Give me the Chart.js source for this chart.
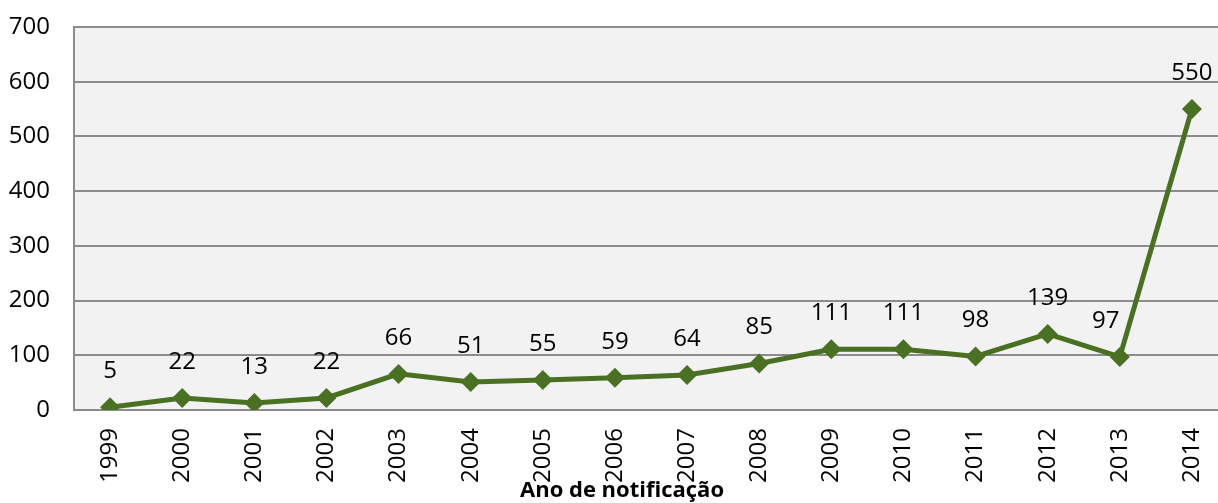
<!DOCTYPE html>
<html>
<head>
<meta charset="utf-8">
<script src="https://cdn.jsdelivr.net/npm/chart.js@4/dist/chart.umd.min.js"></script>
<style>
  html, body { margin: 0; padding: 0; background: #fff; overflow: hidden; }
  #wrap { width: 1240px; height: 503px; }
</style>
</head>
<body>
<div id="wrap"><canvas id="casesChart" width="1240" height="503"></canvas></div>
<script>
const years = ['1999', '2000', '2001', '2002', '2003', '2004', '2005', '2006',
  '2007', '2008', '2009', '2010', '2011', '2012', '2013', '2014'];
const cases = [5, 22, 13, 22, 66, 51, 55, 59, 64, 85, 111, 111, 98, 139, 97, 550];
const yTicks = [0, 100, 200, 300, 400, 500, 600, 700];
const xTitle = 'Ano de notificação';

const FONT = "'Open Sans', 'Noto Sans', sans-serif";
const GREEN = '#4a7023';

// gray plot background
const plotBackground = {
  id: 'plotBackground',
  beforeDraw(chart) {
    const { ctx, chartArea } = chart;
    ctx.save();
    ctx.fillStyle = '#f2f2f2';
    ctx.fillRect(chartArea.left, chartArea.top, chartArea.right - chartArea.left, chartArea.bottom - chartArea.top);
    ctx.restore();
  }
};

// value labels above each point + axis title (centred on the canvas, like the original)
const valueLabels = {
  id: 'valueLabels',
  afterDatasetsDraw(chart) {
    const { ctx } = chart;
    const meta = chart.getDatasetMeta(0);
    ctx.save();
    ctx.font = '24px ' + FONT;
    ctx.fillStyle = '#000';
    ctx.textAlign = 'center';
    ctx.textBaseline = 'middle';
    meta.data.forEach((pt, i) => {
      let dx = 0, dy = -36;
      if (i === years.length - 2) { dx = -14; dy = -36; }
      ctx.fillText(String(cases[i]), pt.x + dx, pt.y + dy);
    });
    ctx.font = 'bold 22px ' + FONT;
    ctx.fillText(xTitle, 622, 491);
    ctx.restore();
  }
};

const ctx = document.getElementById('casesChart').getContext('2d');
new Chart(ctx, {
  type: 'line',
  data: {
    labels: years,
    datasets: [{
      data: cases,
      borderColor: GREEN,
      backgroundColor: GREEN,
      borderWidth: 5,
      pointStyle: 'rectRot',
      pointRadius: 10,
      pointHoverRadius: 10,
      pointBackgroundColor: GREEN,
      pointBorderColor: GREEN,
      pointBorderWidth: 0,
      tension: 0
    }]
  },
  options: {
    responsive: false,
    animation: false,
    layout: { padding: { top: 27, right: 12, left: 0, bottom: 0 } },
    plugins: {
      legend: { display: false },
      tooltip: { enabled: false }
    },
    scales: {
      x: {
        offset: true,
        grid: { display: false, drawTicks: false },
        border: { display: true, color: '#8c8c8c', width: 2 },
        ticks: {
          color: '#000',
          font: { family: FONT, size: 24 },
          minRotation: 90,
          maxRotation: 90,
          padding: 18
        },
        afterFit(scale) {
          scale.height = 93;
          scale.paddingLeft = 0;
          scale.paddingRight = 0;
        }
      },
      y: {
        min: 0,
        max: 700,
        afterBuildTicks(scale) { scale.ticks = yTicks.map(v => ({ value: v })); },
        grid: { color: '#8c8c8c', lineWidth: 2, drawTicks: false },
        border: { display: true, color: '#8c8c8c', width: 2 },
        ticks: {
          color: '#000',
          font: { family: FONT, size: 24 },
          padding: 24
        },
        afterFit(scale) {
          scale.width = 74;
          scale.paddingTop = 0;
          scale.paddingBottom = 0;
        }
      }
    }
  },
  plugins: [plotBackground, valueLabels]
});
</script>
</body>
</html>
